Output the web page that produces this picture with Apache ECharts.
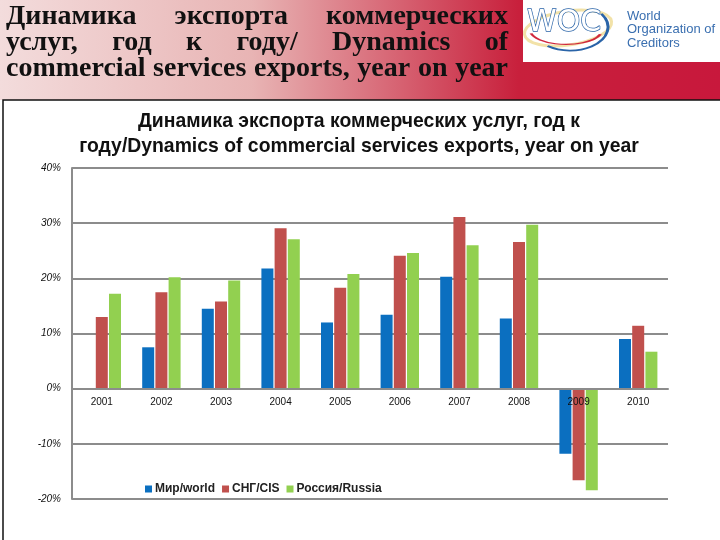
<!DOCTYPE html>
<html>
<head>
<meta charset="utf-8">
<script src="https://cdn.jsdelivr.net/npm/echarts@6/dist/echarts.min.js"></script>
<style>html,body{margin:0;padding:0;background:#fff;}#chart{width:720px;height:540px;}</style>
</head>
<body>
<div id="chart"></div>
<script>
const years = ['2001','2002','2003','2004','2005','2006','2007','2008','2009','2010'];
const worldValues = [null, 7.5, 14.5, 21.8, 12.0, 13.4, 20.3, 12.7, -11.8, 9.0];
const cisValues = [13.0, 17.5, 15.8, 29.1, 18.3, 24.1, 31.1, 26.6, -16.6, 11.4];
const russiaValues = [17.2, 20.2, 19.6, 27.1, 20.8, 24.6, 26.0, 29.7, -18.4, 6.7];
const seriesNames = ['Мир/world', 'СНГ/CIS', 'Россия/Russia'];
const headerLines = [
  'Динамика экспорта коммерческих',
  'услуг, год к году/ Dynamics of',
  'commercial services exports, year on year'
];
const titleLines = [
  'Динамика экспорта коммерческих услуг, год к',
  'году/Dynamics of commercial services exports, year on year'
];
const logoLines = ['World', 'Organization of', 'Creditors'];

const ctx = document.createElement('canvas').getContext('2d');
function measure(text, font) { ctx.font = font; return ctx.measureText(text).width; }

// justified header text
const hFont = 'bold 28px "Liberation Serif"';
const lineLeft = 6, lineRight = 508;
const sx = Math.min(1, (lineRight - lineLeft) / measure(headerLines[2], hFont));
const headerEls = [];
headerLines.forEach((line, i) => {
  const words = line.split(' ');
  const widths = words.map(w => measure(w, hFont) * sx);
  const sum = widths.reduce((a, b) => a + b, 0);
  const gap = words.length > 1 ? (lineRight - lineLeft - sum) / (words.length - 1) : 0;
  let x = lineLeft;
  words.forEach((w, j) => {
    headerEls.push({
      type: 'text', x: x, y: 17 + i * 25.7, scaleX: sx, z: 10, silent: true,
      style: { text: w, font: hFont, fill: '#111', verticalAlign: 'middle' }
    });
    x += widths[j] + gap;
  });
});

// chart title size fitted to reference line width
const titleFamily = '"Liberation Sans"';
const titleSize = Math.min(20, 100 * 560 / measure(titleLines[1], 'bold 100px ' + titleFamily));
const logoSize = Math.min(13, 100 * 90 / measure(logoLines[1], '100px "Liberation Sans"'));

const gridTop = 168, gridBottom = 41, yMin = -20, yMax = 40;
const plotH = 540 - gridTop - gridBottom;
const zeroOffset = -plotH * (0 - yMin) / (yMax - yMin);

const chart = echarts.init(document.getElementById('chart'));
chart.setOption({
  animation: false,
  color: ['#0b6fc0', '#c0504d', '#92d050'],
  title: {
    text: titleLines.join('\n'), left: 354, top: 104,
    textAlign: 'center',
    textStyle: { fontFamily: 'Liberation Sans', fontSize: titleSize, fontWeight: 'bold', color: '#111', lineHeight: 25 }
  },
  legend: {
    data: seriesNames, left: 140, top: 478, icon: 'rect', itemWidth: 7, itemHeight: 7, itemGap: 7,
    textStyle: { fontFamily: 'Liberation Sans', fontSize: 12, fontWeight: 'bold', color: '#222', padding: [0, 0, 0, -2] }
  },
  grid: { left: 72, right: 52, top: gridTop, bottom: gridBottom, containLabel: false },
  xAxis: {
    type: 'category', data: years, offset: zeroOffset, z: 5,
    axisLine: { onZero: false, lineStyle: { color: '#8c8c8c', width: 2 } },
    axisTick: { show: false },
    axisLabel: { fontFamily: 'Liberation Sans', fontSize: 10, color: '#111', margin: 9 }
  },
  yAxis: {
    type: 'value', min: yMin, max: yMax, interval: 10,
    axisLine: { show: true, lineStyle: { color: '#8c8c8c', width: 2 } },
    axisTick: { show: false },
    splitLine: { lineStyle: { color: '#8c8c8c', width: 2 } },
    axisLabel: { formatter: '{value}%', fontFamily: 'Liberation Sans', fontStyle: 'italic', fontSize: 10, color: '#111', margin: 11 }
  },
  series: [
    { name: seriesNames[0], type: 'bar', data: worldValues, barWidth: 12, barGap: '10%' },
    { name: seriesNames[1], type: 'bar', data: cisValues, barWidth: 12, barGap: '10%' },
    { name: seriesNames[2], type: 'bar', data: russiaValues, barWidth: 12, barGap: '10%' }
  ],
  graphic: [
    {
      type: 'rect', z: 0, silent: true,
      shape: { x: 0, y: 0, width: 720, height: 100 },
      style: { fill: new echarts.graphic.LinearGradient(0, 0, 1, 0, [
        { offset: 0, color: '#f3dcdc' },
        { offset: 0.35, color: '#e8b4b4' },
        { offset: 0.72, color: '#c8203c' },
        { offset: 1, color: '#c8183c' }
      ]) }
    },
    {
      type: 'rect', z: 1, silent: true,
      shape: { x: 3, y: 100, width: 740, height: 460 },
      style: { fill: 'none', stroke: '#111', lineWidth: 1.5 }
    },
    {
      type: 'rect', z: 2, silent: true,
      shape: { x: 523, y: 0, width: 197, height: 62 },
      style: { fill: '#fff' }
    },
    {
      type: 'ellipse', z: 3, silent: true, rotation: 0.15, x: 568, y: 28,
      shape: { cx: 0, cy: 0, rx: 44, ry: 17 },
      style: { fill: 'none', stroke: '#f2e2a8', lineWidth: 3 }
    },
    {
      type: 'arc', z: 3, silent: true, x: 570, y: 27,
      shape: { cx: 0, cy: 0, r: 38, startAngle: -0.6, endAngle: 2.2 },
      scaleY: 0.62,
      style: { stroke: '#2a64a8', lineWidth: 3, fill: 'none' }
    },
    {
      type: 'arc', z: 3, silent: true, x: 566, y: 30,
      shape: { cx: 0, cy: 0, r: 36, startAngle: 0.3, endAngle: 2.9 },
      scaleY: 0.4,
      style: { stroke: '#d0283e', lineWidth: 3, fill: 'none' }
    },
    {
      type: 'text', z: 4, silent: true, x: 527, y: 23,
      style: { text: 'WOC', font: '30px "DejaVu Sans"', fill: '#fff', stroke: '#2a64a8', lineWidth: 1.4, verticalAlign: 'middle' }
    },
    ...logoLines.map((t, i) => ({
      type: 'text', z: 4, silent: true, x: 627, y: 16 + i * 13.5,
      style: { text: t, font: logoSize + 'px "Liberation Sans"', fill: '#3a6fb0', verticalAlign: 'middle' }
    })),
    ...headerEls
  ]
});
</script>
</body>
</html>
